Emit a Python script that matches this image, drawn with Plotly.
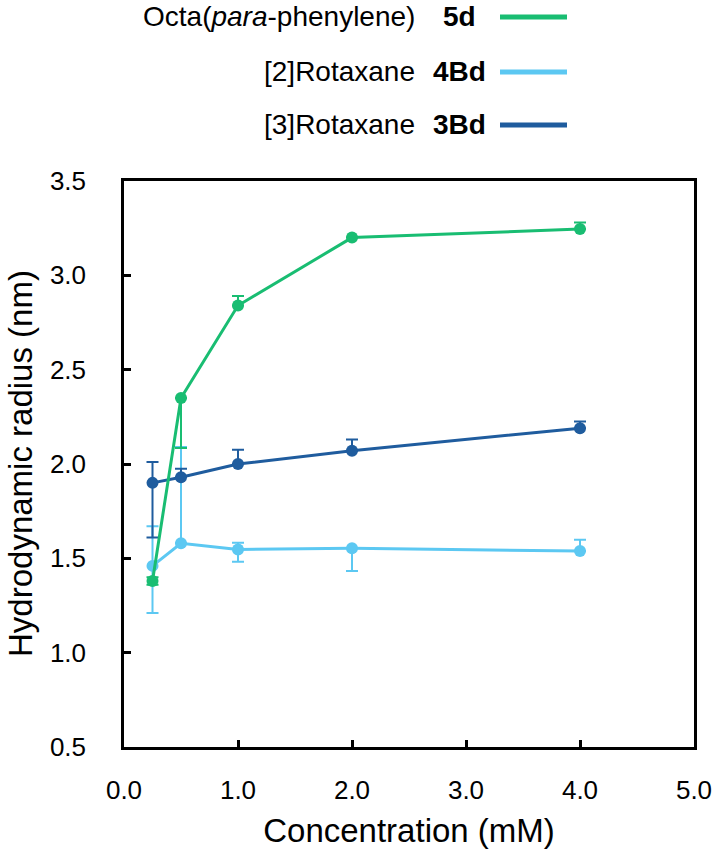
import plotly.graph_objects as go

# ---- data ----
conc = [0.25, 0.5, 1.0, 2.0, 4.0]

green_y = [1.38, 2.35, 2.84, 3.20, 3.245]
green_plus = [0.02, 0.0, 0.05, 0.0, 0.035]
green_minus = [0.02, 0.265, 0.0, 0.0, 0.0]

light_y = [1.46, 1.58, 1.547, 1.553, 1.539]
light_plus = [0.21, 0.51, 0.035, 0.0, 0.06]
light_minus = [0.25, 0.0, 0.065, 0.12, 0.0]

dark_y = [1.90, 1.93, 2.00, 2.07, 2.19]
dark_plus = [0.11, 0.045, 0.075, 0.06, 0.035]
dark_minus = [0.29, 0.0, 0.0, 0.0, 0.0]

series_names = ["Octa(<i>para</i>-phenylene)", "[2]Rotaxane", "[3]Rotaxane"]
series_codes = ["5d", "4Bd", "3Bd"]
colors = ["#19BD72", "#5CC8F2", "#1F5C9E"]

x_ticks = [0, 1, 2, 3, 4, 5]
y_ticks = [0.5, 1.0, 1.5, 2.0, 2.5, 3.0, 3.5]

x_title = "Concentration (mM)"
y_title = "Hydrodynamic radius (nm)"

FONT = "Liberation Sans, Arial, sans-serif"

fig = go.Figure()

def add_series(y, plus, minus, color, name):
    fig.add_trace(go.Scatter(
        x=conc, y=y, mode="lines+markers", name=name,
        line=dict(color=color, width=3),
        marker=dict(color=color, size=12),
        error_y=dict(type="data", symmetric=False, array=plus, arrayminus=minus,
                     color=color, thickness=2, width=6),
        showlegend=False,
        cliponaxis=False,
    ))

add_series(light_y, light_plus, light_minus, colors[1], series_names[1])
add_series(dark_y, dark_plus, dark_minus, colors[2], series_names[2])
add_series(green_y, green_plus, green_minus, colors[0], series_names[0])

# ---- custom legend at top ----
W, H = 714, 855
L, R, T, B = 124, 20, 181, 108
pw, ph = W - L - R, H - T - B

def px(p):
    return (p - L) / pw

def py(q):
    return (H - B - q) / ph

rows_y = [17, 72, 125]
for name, code, col, yy in zip(series_names, series_codes, colors, rows_y):
    fig.add_annotation(x=px(417), y=py(yy), xref="paper", yref="paper",
                       text=name, showarrow=False, xanchor="right", yanchor="middle",
                       font=dict(family=FONT, size=28, color="black"))
    fig.add_annotation(x=px(459), y=py(yy), xref="paper", yref="paper",
                       text="<b>" + code + "</b>", showarrow=False, xanchor="center",
                       yanchor="middle", font=dict(family=FONT, size=28, color="black"))
    fig.add_shape(type="line", xref="paper", yref="paper",
                  x0=px(500), x1=px(567), y0=py(yy), y1=py(yy),
                  line=dict(color=col, width=5))

# y-axis title placed as rotated text
fig.add_annotation(x=px(20), y=0.5, xref="paper", yref="paper", text=y_title,
                   textangle=-90, showarrow=False, xanchor="center", yanchor="middle",
                   font=dict(family=FONT, size=33, color="black"))

axis_common = dict(
    showline=True, linecolor="black", linewidth=2.5, mirror=True,
    ticks="inside", ticklen=7, tickwidth=2.5, tickcolor="black",
    showgrid=False, zeroline=False,
    tickfont=dict(family=FONT, size=26, color="black"),
    ticklabeloverflow="allow",
    automargin=False,
)

fig.update_xaxes(range=[0, 5], tickvals=x_ticks, tickformat=".1f",
                 title=dict(text=x_title, font=dict(family=FONT, size=33, color="black")),
                 ticklabelstandoff=18, **axis_common)
fig.update_yaxes(range=[0.5, 3.5], tickvals=y_ticks, tickformat=".1f",
                 ticklabelstandoff=30, **axis_common)

fig.update_layout(
    width=W, height=H,
    margin=dict(l=L, r=R, t=T, b=B),
    paper_bgcolor="white", plot_bgcolor="white",
    font=dict(family=FONT, color="black"),
)

fig.write_html("out.html")
